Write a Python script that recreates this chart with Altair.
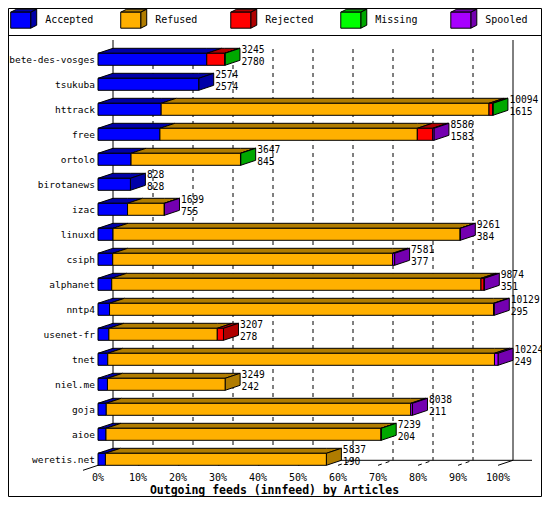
import altair as alt
import pandas as pd

# ---------------- data ----------------
hosts = ["bete-des-vosges", "tsukuba", "httrack", "free", "ortolo", "birotanews",
         "izac", "linuxd", "csiph", "alphanet", "nntp4", "usenet-fr", "tnet",
         "niel.me", "goja", "aioe", "weretis.net"]
offered = [3245, 2574, 10094, 8586, 3647, 828, 1699, 9261, 7581, 9874, 10129,
           3207, 10224, 3249, 8038, 7239, 5837]
accepted = [2780, 2574, 1615, 1583, 845, 828, 755, 384, 377, 351, 295, 278,
            249, 242, 211, 204, 190]
refused = [0, 0, 8379, 6579, 2797, 0, 939, 8872, 7154, 9438, 9814, 2771,
           9885, 3007, 7782, 7030, 5647]
rejected = [458, 0, 95, 392, 0, 0, 0, 0, 0, 80, 0, 158, 0, 0, 0, 0, 0]
missing = [7, 0, 5, 0, 5, 0, 0, 0, 0, 0, 0, 0, 0, 0, 0, 5, 0]
spooled = [0, 0, 0, 32, 0, 0, 5, 5, 50, 5, 20, 0, 90, 0, 45, 0, 0]

statuses = ["Accepted", "Refused", "Rejected", "Missing", "Spooled"]
front_colors = ["#0000ff", "#ffb000", "#ff0000", "#00ff00", "#a800ff"]
dark_colors = ["#0000a8", "#b07c00", "#b00000", "#00a800", "#7400b0"]

x_ticks = [0, 10, 20, 30, 40, 50, 60, 70, 80, 90, 100]
x_tick_labels = ["0%", "10%", "20%", "30%", "40%", "50%", "60%", "70%", "80%", "90%", "100%"]
x_title = "Outgoing feeds (innfeed) by Articles"

# ---------------- style constants ----------------
MONO = "DejaVu Sans Mono"
STEP = 25.0      # px per row
HALF = 6 / STEP  # half bar thickness (row units)
DY = 5 / STEP    # 3D depth, upward (row units)
DX = 3.75        # 3D depth, rightward (percent units)
N = len(hosts)
MAXV = max(offered)
LEFT_PAD = 90
RIGHT_PAD = 44
TOP_PAD = 38.8
BOTTOM_PAD = 25.2
PLOT_W = 400


def py(page_y):
    """page pixel y -> row units (for frame decorations only)"""
    return (page_y - 8 - TOP_PAD) / STEP - 0.5


# ---------------- geometry derived from the data ----------------
series = [accepted, refused, rejected, missing, spooled]
fronts, tops, sides, vals = [], [], [], []
for i in range(N):
    start = 0.0
    last = None
    for k, arr in enumerate(series):
        v = arr[i]
        if v <= 0:
            continue
        s = start
        e = start + v / MAXV * 100.0
        fronts.append(dict(x=s, x2=e, y=i - HALF, y2=i + HALF, c=front_colors[k]))
        T = i - HALF
        w = e - s
        if w >= DX:
            pts = [(s, T, T), (s + DX, T - DY, T), (e, T - DY, T), (e + DX, T - DY, T - DY)]
        else:
            f = w / DX
            pts = [(s, T, T), (e, T - DY * f, T), (s + DX, T - DY, T - DY * (1 - f)),
                   (e + DX, T - DY, T - DY)]
        for (px, pyy, pyy2) in pts:
            tops.append(dict(face=f"{i}-{k}", x=px, y=pyy, y2=pyy2, c=dark_colors[k]))
        last = (e, k)
        start = e
    e, k = last
    sides.append(dict(face=str(i), x=e, y=i - HALF, y2=i + HALF, c=dark_colors[k]))
    sides.append(dict(face=str(i), x=e + DX, y=i - HALF - DY, y2=i + HALF - DY, c=dark_colors[k]))
    vals.append(dict(x=offered[i] / MAXV * 100.0, yt=i - HALF, yb=i + HALF, yl=i + 4 / STEP,
                     off=str(offered[i]), acc=str(accepted[i]), host=hosts[i], x0=0))

fronts = pd.DataFrame(fronts)
tops = pd.DataFrame(tops)
sides = pd.DataFrame(sides)
vals = pd.DataFrame(vals)

floor_front = N - 1 + HALF
floor_back = floor_front - DY
grid_top_dash = py(49)
grid_top_solid = py(40)

grid_dash = pd.DataFrame({"x": [t + DX for t in x_ticks[1:-1]]})
grid_solid = pd.DataFrame({"x": [x_ticks[0] + DX, x_ticks[-1] + DX]})
floor = pd.DataFrame([
    dict(x=DX, x2=108.5, y=floor_back, y2=floor_back),
    dict(x=x_ticks[-1], x2=x_ticks[-1] + DX, y=floor_front, y2=floor_back),
    dict(x=-DX, x2=0, y=floor_front + DY, y2=floor_front),
])
fticks = pd.DataFrame({"x": x_ticks[:-1], "x2": [t + DX for t in x_ticks[:-1]],
                       "y": floor_front, "y2": floor_back})
tick_df = pd.DataFrame({"x": x_ticks, "lab": x_tick_labels, "y": floor_front + 15.7 / STEP})

# ---------------- scales ----------------
xs = alt.Scale(domain=[0, 100], nice=False, zero=False)
ys = alt.Scale(domain=[-0.5, N - 0.5], reverse=True, nice=False, zero=False)


def X(f):
    return alt.X(f, type="quantitative", scale=xs, axis=None)


def Y(f):
    return alt.Y(f, type="quantitative", scale=ys, axis=None, stack=None)


one = pd.DataFrame({"a": [0]})
H_TOTAL = TOP_PAD + N * STEP + BOTTOM_PAD
W_TOTAL = LEFT_PAD + PLOT_W + RIGHT_PAD

frame = alt.Chart(one).mark_rect(fillOpacity=0, stroke="black", strokeWidth=1).encode(
    x=alt.value(0.5 - LEFT_PAD), x2=alt.value(W_TOTAL - 0.5 - LEFT_PAD),
    y=alt.value(0.5 - TOP_PAD), y2=alt.value(H_TOTAL - 0.5 - TOP_PAD))
sep = alt.Chart(one).mark_rule(color="black", strokeWidth=1).encode(
    x=alt.value(-LEFT_PAD), x2=alt.value(W_TOTAL - LEFT_PAD), y=alt.value(35.5 - 8 - TOP_PAD))

gdash = alt.Chart(grid_dash).mark_rule(color="black", strokeWidth=1, strokeDash=[4, 4]).encode(
    x=X("x"), y=alt.Y(datum=grid_top_dash, type="quantitative", scale=ys, axis=None),
    y2=alt.Y2(datum=floor_back))
gsolid = alt.Chart(grid_solid).mark_rule(color="black", strokeWidth=1).encode(
    x=X("x"), y=alt.Y(datum=grid_top_solid, type="quantitative", scale=ys, axis=None),
    y2=alt.Y2(datum=floor_back))
flines = alt.Chart(floor).mark_rule(color="black", strokeWidth=1).encode(
    x=X("x"), x2="x2", y=Y("y"), y2="y2")
ftk = alt.Chart(fticks).mark_rule(color="black", strokeWidth=1, strokeDash=[4, 4]).encode(
    x=X("x"), x2="x2", y=Y("y"), y2="y2")
tlabels = alt.Chart(tick_df).mark_text(font=MONO, fontSize=10, align="center",
                                       baseline="alphabetic", color="black").encode(
    x=X("x"), y=Y("y"), text="lab:N")
title = alt.Chart(one).mark_text(font=MONO, fontSize=11.5, fontWeight="bold", align="center",
                                 baseline="alphabetic", color="black", text=x_title).encode(
    x=alt.value(176.5), y=alt.value(494 - 8 - TOP_PAD))

top_faces = alt.Chart(tops).mark_area(orient="vertical", stroke="black", strokeWidth=1,
                                      opacity=1, interpolate="linear").encode(
    x=X("x"), y=Y("y"), y2="y2", fill=alt.Fill("c:N", scale=None), detail="face:N")
side_faces = alt.Chart(sides).mark_area(orient="vertical", stroke="black", strokeWidth=1,
                                        opacity=1, interpolate="linear").encode(
    x=X("x"), y=Y("y"), y2="y2", fill=alt.Fill("c:N", scale=None), detail="face:N")
front_faces = alt.Chart(fronts).mark_rect(stroke="black", strokeWidth=1, opacity=1).encode(
    x=X("x"), x2="x2", y=Y("y"), y2="y2", fill=alt.Fill("c:N", scale=None))

vtop = alt.Chart(vals).mark_text(font=MONO, fontSize=9.6, align="left", baseline="alphabetic",
                                 dx=16.5, color="black").encode(x=X("x"), y=Y("yt"), text="off:N")
vbot = alt.Chart(vals).mark_text(font=MONO, fontSize=9.6, align="left", baseline="alphabetic",
                                 dx=16.5, color="black").encode(x=X("x"), y=Y("yb"), text="acc:N")
hlab = alt.Chart(vals).mark_text(font=MONO, fontSize=9.5, align="right", baseline="alphabetic",
                                 dx=-3, color="black").encode(x=X("x0"), y=Y("yl"), text="host:N")

main = alt.layer(frame, sep, gdash, gsolid, flines, ftk, tlabels, title, top_faces, side_faces,
                 front_faces, vtop, vbot, hlab)

# ---------------- legend ----------------
leg = pd.DataFrame({"status": statuses, "front": front_colors, "dark": dark_colors})
lx = alt.X("status:N", scale=alt.Scale(type="point", domain=statuses, range=[-77.3, 362.8],
                                       padding=0), axis=None)
FRONT_PATH = "M-1,-0.8L1,-0.8L1,0.8L-1,0.8Z"
TOP_PATH = "M-1,-0.8L-0.4,-1.1L1.6,-1.1L1,-0.8Z"
SIDE_PATH = "M1,-0.8L1.6,-1.1L1.6,0.5L1,0.8Z"
LEG_Y = 20.2 - 8 - TOP_PAD


def lbox(path, col):
    return alt.Chart(leg).mark_point(shape=path, size=400, filled=True, opacity=1,
                                     stroke="black", strokeWidth=1).encode(
        x=lx, y=alt.value(LEG_Y), fill=alt.Fill(col + ":N", scale=None))


ltext = alt.Chart(leg).mark_text(font=MONO, fontSize=10, align="left", baseline="alphabetic",
                                 dx=24.5, color="black").encode(
    x=lx, y=alt.value(LEG_Y + 3.2), text="status:N")
legend = alt.layer(lbox(TOP_PATH, "dark"), lbox(SIDE_PATH, "dark"), lbox(FRONT_PATH, "front"), ltext)

chart = alt.layer(main, legend).resolve_scale(x="independent").properties(
    width=PLOT_W, height=N * STEP,
    autosize=alt.AutoSizeParams(type="none"),
    padding={"left": LEFT_PAD, "top": TOP_PAD, "right": RIGHT_PAD, "bottom": BOTTOM_PAD},
    background="white",
).configure_view(stroke=None)

chart.save("out.html", embed_options={"renderer": "svg", "actions": False})
